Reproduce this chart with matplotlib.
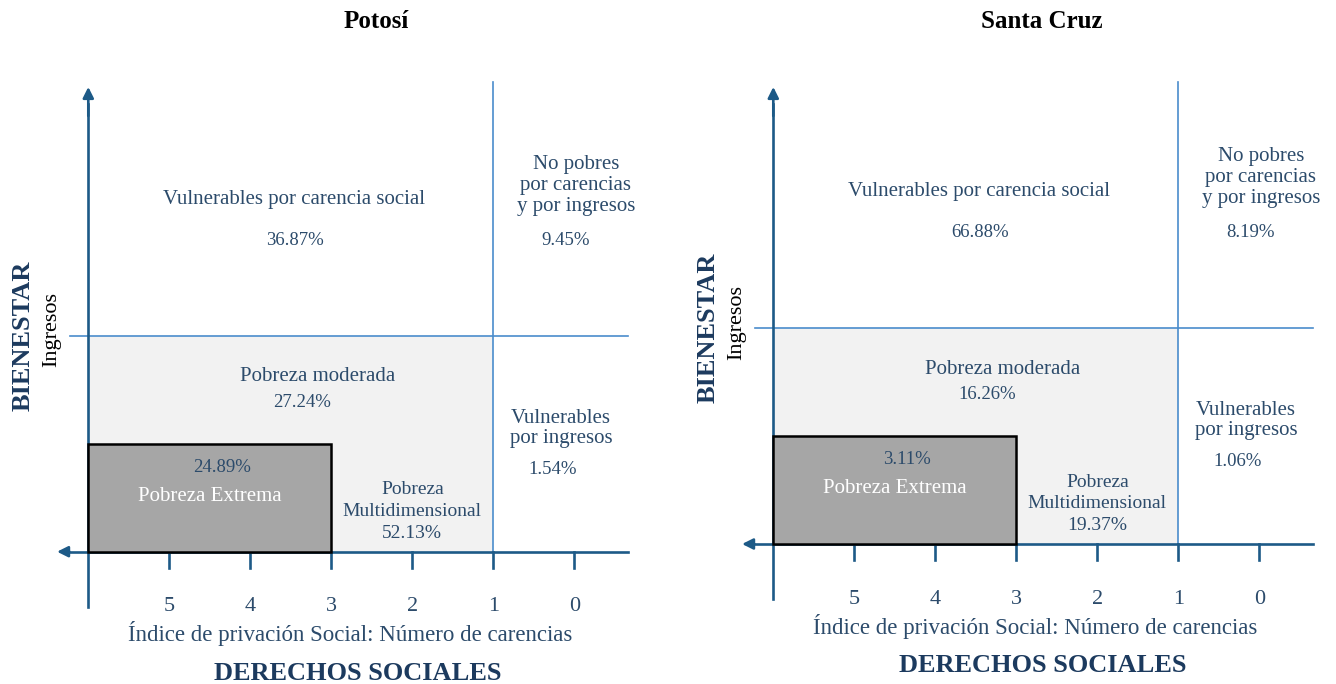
import matplotlib.pyplot as plt
from matplotlib.patches import Rectangle

plt.rcParams['font.family'] = ['Liberation Serif', 'DejaVu Serif']

# === Data ===
panel_titles = ['Potosí', 'Santa Cruz']
region_labels = ['Vulnerables por carencia social',
                 'No pobres\npor carencias\ny por ingresos',
                 'Pobreza moderada',
                 'Vulnerables\npor ingresos',
                 'Pobreza Extrema',
                 'Pobreza\nMultidimensional']
potosi_pct = [36.87, 9.45, 27.24, 1.54, 24.89, 52.13]
santa_cruz_pct = [66.88, 8.19, 16.26, 1.06, 3.11, 19.37]
carencias_ticks = [5, 4, 3, 2, 1, 0]

# thresholds of the scheme (x = number of carencias, y = income in line units)
MAX_CARENCIAS = 6
CARENCIA_LINE = 1
CARENCIA_EXTREMA = 3
INGRESO_LINE = 1.0
INGRESO_EXTREMO = 0.5

# colours
AXIS_C = '#1d5a87'
LINE_C = '#4a8ccc'
TEXT_C = '#2c4b6b'
NAVY = '#1c3a5e'

W, H = 1336, 684
PX_X = 81.0    # pixels per carencia
PX_Y = 216.0   # pixels per income unit
TOP_PX = 82    # top of the vertical lines (pixels from the top)


def draw_panel(ax, title, pct, origin, title_x):
    ox, oy = origin
    # map the axes box (pixels) onto data units
    x0, x1 = ax.get_position().x0 * W, ax.get_position().x1 * W
    y1 = H - ax.get_position().y1 * H
    y0 = H - ax.get_position().y0 * H
    ax.set_xlim(MAX_CARENCIAS + (ox - x0) / PX_X, MAX_CARENCIAS - (x1 - ox) / PX_X)
    ax.set_ylim((oy - y0) / PX_Y, (oy - y1) / PX_Y)
    ax.set_axis_off()
    top = (oy - TOP_PX) / PX_Y

    # regions
    ax.add_patch(Rectangle((CARENCIA_LINE, 0), MAX_CARENCIAS - CARENCIA_LINE, INGRESO_LINE,
                           facecolor='#f2f2f2', edgecolor='none', zorder=0))
    ax.add_patch(Rectangle((CARENCIA_EXTREMA, 0), MAX_CARENCIAS - CARENCIA_EXTREMA, INGRESO_EXTREMO,
                           facecolor='#a6a6a6', edgecolor='black', lw=1.8, zorder=3))

    # threshold lines
    ax.plot([6.22, -0.66], [INGRESO_LINE, INGRESO_LINE], color=LINE_C, lw=1.2, zorder=1)
    ax.plot([CARENCIA_LINE, CARENCIA_LINE], [0, top], color=LINE_C, lw=1.2, zorder=1)

    # axes with arrows
    ax.plot([MAX_CARENCIAS, MAX_CARENCIAS], [-0.254, top - 0.1], color=AXIS_C, lw=1.9, zorder=2)
    ax.annotate('', xy=(MAX_CARENCIAS, top - 0.01), xytext=(MAX_CARENCIAS, top - 0.17),
                arrowprops=dict(arrowstyle='-|>', color=AXIS_C, lw=1.9, mutation_scale=16))
    ax.plot([6.3, -0.66], [0, 0], color=AXIS_C, lw=1.9, zorder=2)
    ax.annotate('', xy=(6.42, 0), xytext=(6.2, 0),
                arrowprops=dict(arrowstyle='-|>', color=AXIS_C, lw=1.9, mutation_scale=16))

    for t in carencias_ticks:
        ax.plot([t, t], [0, -0.075], color=AXIS_C, lw=1.9, zorder=2)
        ax.text(t, -0.256, str(t), ha='center', va='center', fontsize=16, color=TEXT_C)

    fs = 15
    pfs = 13.5
    ax.text(3.46, 1.63, region_labels[0], ha='center', va='center', fontsize=fs, color=TEXT_C)
    ax.text(3.45, 1.443, f'{pct[0]:.2f}%', ha='center', va='center', fontsize=pfs, color=TEXT_C)
    ax.text(-0.02, 1.695, region_labels[1], ha='center', va='center', fontsize=fs, color=TEXT_C,
            linespacing=1.15)
    ax.text(0.11, 1.443, f'{pct[1]:.2f}%', ha='center', va='center', fontsize=pfs, color=TEXT_C)
    ax.text(3.164, 0.81, region_labels[2], ha='center', va='center', fontsize=fs, color=TEXT_C)
    ax.text(3.36, 0.69, f'{pct[2]:.2f}%', ha='center', va='center', fontsize=pfs, color=TEXT_C)
    ax.text(0.165, 0.571, region_labels[3], ha='center', va='center', fontsize=fs, color=TEXT_C,
            linespacing=1.1)
    ax.text(0.27, 0.38, f'{pct[3]:.2f}%', ha='center', va='center', fontsize=pfs, color=TEXT_C)
    ax.text(4.35, 0.39, f'{pct[4]:.2f}%', ha='center', va='center', fontsize=pfs, color=TEXT_C,
            zorder=4)
    ax.text(4.5, 0.257, region_labels[4], ha='center', va='center', fontsize=fs, color='white',
            zorder=4)
    ax.text(2.0, 0.186, region_labels[5] + f'\n{pct[5]:.2f}%', ha='center', va='center',
            fontsize=14, color=TEXT_C, linespacing=1.35)

    ax.text(2.77, -0.381, 'Índice de privación Social: Número de carencias', ha='center',
            va='center', fontsize=16.5, color=TEXT_C)
    ax.text(2.67, -0.562, 'DERECHOS SOCIALES', ha='center', va='center', fontsize=19,
            fontweight='bold', color=NAVY)
    ax.text(6.806, 1.0, 'BIENESTAR', ha='center', va='center', fontsize=19, rotation=90,
            fontweight='bold', color=NAVY)
    ax.text(6.448, 1.027, 'Ingresos', ha='center', va='center', fontsize=16, rotation=90,
            color='black')

    ax.figure.text(title_x / W, 1 - 22 / H, title, ha='center', va='center', fontsize=18,
                   fontweight='bold', color='black')


fig = plt.figure(figsize=(W / 100, H / 100), dpi=100)
ax1 = fig.add_axes([0, 0, 668 / W, 644 / H])
ax2 = fig.add_axes([668 / W, 0, 668 / W, 644 / H])

draw_panel(ax1, panel_titles[0], potosi_pct, (88.3, 551.7), 376)
draw_panel(ax2, panel_titles[1], santa_cruz_pct, (773.3, 544.0), 1042)

fig.savefig('out.png', dpi=100)
